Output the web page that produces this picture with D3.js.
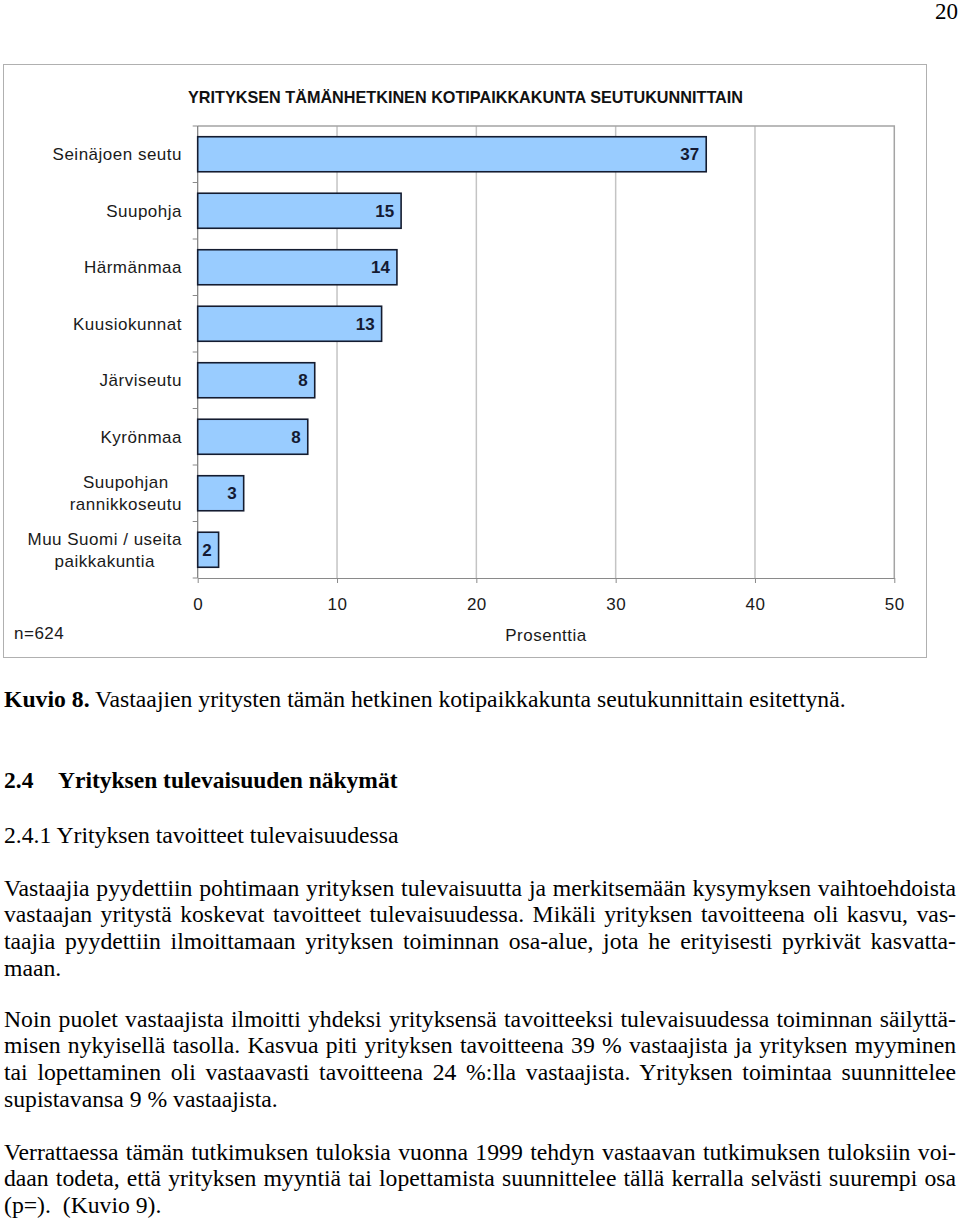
<!DOCTYPE html>
<html>
<head>
<meta charset="utf-8">
<script src="https://cdn.jsdelivr.net/npm/d3@7"></script>
<style>
  html, body { margin: 0; padding: 0; background: #fff; }
  svg { display: block; }
  .serif { font-family: "Liberation Serif", "Times New Roman", serif; fill: #000; }
  .sans { font-family: "Liberation Sans", Arial, sans-serif; }
</style>
</head>
<body>
<svg id="page" width="960" height="1223"></svg>
<script>
// ---------- data ----------
const categories = ["Seinäjoen seutu", "Suupohja", "Härmänmaa", "Kuusiokunnat", "Järviseutu", "Kyrönmaa", "Suupohjan\nrannikkoseutu", "Muu Suomi / useita\npaikkakuntia"];
const values = [36.5, 14.6, 14.3, 13.2, 8.4, 7.9, 3.3, 1.5];
const valueLabels = ["37", "15", "14", "13", "8", "8", "3", "2"];
const xTicks = [0, 10, 20, 30, 40, 50];
const chartTitle = "YRITYKSEN TÄMÄNHETKINEN KOTIPAIKKAKUNTA SEUTUKUNNITTAIN";
const xAxisTitle = "Prosenttia";
const sampleNote = "n=624";
const pageNumber = "20";

const captionBold = "Kuvio 8.";
const captionRest = " Vastaajien yritysten tämän hetkinen kotipaikkakunta seutukunnittain esitettynä.";
const headingNumber = "2.4";
const headingText = "Yrityksen tulevaisuuden näkymät";
const subheading = "2.4.1 Yrityksen tavoitteet tulevaisuudessa";
const paragraphs = [
  ["Vastaajia pyydettiin pohtimaan yrityksen tulevaisuutta ja merkitsemään kysymyksen vaihtoehdoista",
   "vastaajan yritystä koskevat tavoitteet tulevaisuudessa. Mikäli yrityksen tavoitteena oli kasvu, vas-",
   "taajia pyydettiin ilmoittamaan yrityksen toiminnan osa-alue, jota he erityisesti pyrkivät kasvatta-",
   "maan."],
  ["Noin puolet vastaajista ilmoitti yhdeksi yrityksensä tavoitteeksi tulevaisuudessa toiminnan säilyttä-",
   "misen nykyisellä tasolla. Kasvua piti yrityksen tavoitteena 39 % vastaajista ja yrityksen myyminen",
   "tai lopettaminen oli vastaavasti tavoitteena 24 %:lla vastaajista. Yrityksen toimintaa suunnittelee",
   "supistavansa 9 % vastaajista."],
  ["Verrattaessa tämän tutkimuksen tuloksia vuonna 1999 tehdyn vastaavan tutkimuksen tuloksiin voi-",
   "daan todeta, että yrityksen myyntiä tai lopettamista suunnittelee tällä kerralla selvästi suurempi osa",
   "(p=).  (Kuvio 9)."]
];
const paragraphBaselines = [895.5, 1026.5, 1159.5];

// ---------- page ----------
const svg = d3.select("#page");

svg.append("text").attr("class", "serif")
  .attr("x", 958).attr("y", 19).attr("text-anchor", "end")
  .style("font-size", "23px").text(pageNumber);

// chart frame
svg.append("rect").attr("x", 3.5).attr("y", 64.5).attr("width", 923).attr("height", 593)
  .attr("fill", "#fff").attr("stroke", "#b0b0b0").attr("stroke-width", 1);

svg.append("text").attr("class", "sans")
  .attr("x", 188).attr("y", 103)
  .attr("textLength", 555).attr("lengthAdjust", "spacingAndGlyphs")
  .style("font-size", "17px").style("font-weight", "bold").attr("fill", "#111")
  .text(chartTitle);

const plotLeft = 197.7, plotRight = 894.3, plotTop = 126, plotBottom = 578;
const x = d3.scaleLinear().domain([0, 50]).range([plotLeft, plotRight]);
const y = d3.scaleBand().domain(categories).range([plotTop, plotBottom])
  .paddingInner(0.38).paddingOuter(0.19);

const g = svg.append("g");

// gridlines
g.selectAll("line.grid").data(xTicks.filter(t => t > 0 && t < 50)).join("line")
  .attr("class", "grid")
  .attr("x1", d => x(d)).attr("x2", d => x(d))
  .attr("y1", plotTop).attr("y2", plotBottom)
  .attr("stroke", "#c4c4c4").attr("stroke-width", 1.5);

// plot border top/right
g.append("path")
  .attr("d", `M${plotLeft},${plotTop}H${plotRight}V${plotBottom}`)
  .attr("fill", "none").attr("stroke", "#a4a4a4").attr("stroke-width", 1.5);

// bottom axis
const xAxis = d3.axisBottom(x).tickValues(xTicks).tickSize(5).tickSizeOuter(0);
const xg = svg.append("g").attr("transform", `translate(0,${plotBottom})`).call(xAxis);
xg.select(".domain").attr("stroke", "#8a8a8a").attr("stroke-width", 1.2);
xg.selectAll(".tick line").attr("stroke", "#8a8a8a");
xg.selectAll(".tick text")
  .attr("y", 32).attr("dy", 0)
  .attr("class", "sans").style("font-size", "17px").style("letter-spacing", "0.5px")
  .attr("fill", "#1a1a1a");

// left axis line + boundary ticks
g.append("line").attr("x1", plotLeft).attr("x2", plotLeft)
  .attr("y1", plotTop).attr("y2", plotBottom)
  .attr("stroke", "#7a7a7a").attr("stroke-width", 1.2);
g.selectAll("line.ytick").data(d3.range(categories.length + 1)).join("line")
  .attr("class", "ytick")
  .attr("x1", plotLeft - 5).attr("x2", plotLeft)
  .attr("y1", i => plotTop + i * y.step()).attr("y2", i => plotTop + i * y.step())
  .attr("stroke", "#8a8a8a");

// bars
const data = categories.map((c, i) => ({ c, v: values[i], label: valueLabels[i] }));
g.selectAll("rect.bar").data(data).join("rect")
  .attr("class", "bar")
  .attr("x", x(0)).attr("y", d => y(d.c))
  .attr("width", d => x(d.v) - x(0)).attr("height", y.bandwidth())
  .attr("fill", "#99ccff").attr("stroke", "#141c30").attr("stroke-width", 1.6);

g.selectAll("text.val").data(data).join("text")
  .attr("class", "sans val")
  .attr("x", d => x(d.v) - 7)
  .attr("y", d => y(d.c) + y.bandwidth() / 2 + 6)
  .attr("text-anchor", "end")
  .style("font-size", "17px").style("font-weight", "bold")
  .attr("fill", "#141a33")
  .text(d => d.label);

// category labels
const labelRight = 182;
categories.forEach(c => {
  const lines = c.split("\n");
  const cy = y(c) + y.bandwidth() / 2;
  const t = svg.append("text").attr("class", "sans")
    .style("font-size", "17px").style("letter-spacing", "0.5px").attr("fill", "#1a1a1a");
  if (lines.length === 1) {
    t.attr("x", labelRight).attr("y", cy + 6).attr("text-anchor", "end").text(lines[0]);
  } else {
    t.attr("text-anchor", "middle");
    const spans = lines.map((ln, i) => t.append("tspan")
      .attr("y", cy + 6 + (i - (lines.length - 1) / 2) * 21.7).text(ln));
    const w = d3.max(spans, s => s.node().getComputedTextLength());
    spans.forEach(s => s.attr("x", labelRight - w / 2));
  }
});

svg.append("text").attr("class", "sans")
  .attr("x", (plotLeft + plotRight) / 2).attr("y", 641).attr("text-anchor", "middle")
  .style("font-size", "17px").style("letter-spacing", "0.5px").attr("fill", "#1a1a1a")
  .text(xAxisTitle);

svg.append("text").attr("class", "sans")
  .attr("x", 14).attr("y", 639)
  .style("font-size", "17px").style("letter-spacing", "0.5px").attr("fill", "#1a1a1a")
  .text(sampleNote);

// ---------- body text ----------
const fs = "23.7px";
const cap = svg.append("text").attr("class", "serif").attr("x", 4).attr("y", 707)
  .style("font-size", fs).style("white-space", "pre");
cap.append("tspan").style("font-weight", "bold").text(captionBold);
cap.append("tspan").text(captionRest);

svg.append("text").attr("class", "serif").attr("x", 4).attr("y", 788)
  .style("font-size", "23.5px").style("font-weight", "bold").text(headingNumber);
svg.append("text").attr("class", "serif").attr("x", 58).attr("y", 788)
  .style("font-size", "23.5px").style("font-weight", "bold").text(headingText);

svg.append("text").attr("class", "serif").attr("x", 4).attr("y", 843)
  .style("font-size", fs).text(subheading);

const leftEdge = 4, rightEdge = 956, lineH = 26.7;
paragraphs.forEach((lines, pi) => {
  lines.forEach((ln, li) => {
    const t = svg.append("text").attr("class", "serif")
      .attr("x", leftEdge).attr("y", paragraphBaselines[pi] + li * lineH)
      .style("font-size", fs).style("white-space", "pre").text(ln);
    if (li < lines.length - 1) {
      const w = t.node().getComputedTextLength();
      const spaces = (ln.match(/ /g) || []).length;
      if (spaces > 0) t.style("word-spacing", ((rightEdge - leftEdge - w) / spaces) + "px");
    }
  });
});
</script>
</body>
</html>
